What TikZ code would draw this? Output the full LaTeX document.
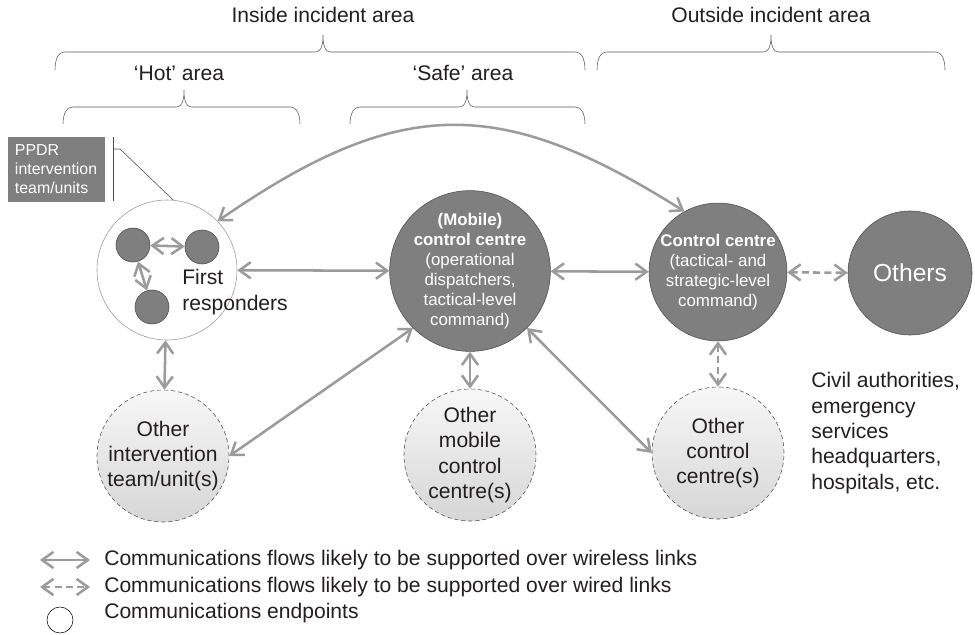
\documentclass[tikz,border=0pt]{standalone}
\usepackage{fontspec}
\setmainfont{Liberation Sans}
\usetikzlibrary{positioning,arrows.meta,shapes}
\definecolor{arrgray}{HTML}{9B9B9B}
\definecolor{cgray}{HTML}{7F7F7F}
\definecolor{edgegray}{HTML}{4D4D4D}
\definecolor{txtblack}{HTML}{231F20}
\tikzstyle{dbox}=[circle, draw=edgegray, fill=cgray, thin, text=white,
                  inner sep=0pt, align=center, font=\fontsize{12}{14.2}\selectfont]
\tikzstyle{obox}=[circle, draw=edgegray, dash pattern=on 3pt off 2pt, thin,
                  top color=gray!6, bottom color=gray!32, inner sep=0pt, align=center,
                  minimum size=3.3cm, text=txtblack, font=\fontsize{15}{18}\selectfont]
\tikzstyle{ubox}=[circle, draw=edgegray, fill=cgray, minimum size=0.85cm, inner sep=0pt]
\tikzstyle{frbox}=[circle, draw=gray!80, fill=white, thin, minimum size=3.5cm, inner sep=0pt]
\tikzstyle{wline}=[{Straight Barb[length=8pt,width=11.5pt]}-{Straight Barb[length=8pt,width=11.5pt]},
                   line width=1.8pt, draw=arrgray]
\tikzstyle{dline}=[wline, dash pattern=on 5pt off 3pt]
\tikzstyle{bline}=[thin, draw=gray!70!black]
\tikzstyle{tline}=[thin, draw=gray!60!black]
\tikzstyle{lbl}=[inner sep=0pt, text=txtblack, font=\fontsize{15}{18}\selectfont]

\begin{document}
\begin{tikzpicture}[x=0.25mm, y=-0.25mm]
\useasboundingbox (0,0) rectangle (975,635);

% area braces
\node (INSIDE) [lbl] at (323,15) {Inside incident area};
\draw[bline] (55,70) to[out=90,in=180] (65,52) -- (315,52) to[out=0,in=-90] (323,35)
  to[out=-90,in=180] (331,52) -- (575,52) to[out=0,in=90] (585,70);
\node (OUTSIDE) [lbl] at (771,15) {Outside incident area};
\draw[bline] (597,70) to[out=90,in=180] (607,52) -- (763,52) to[out=0,in=-90] (771,35)
  to[out=-90,in=180] (779,52) -- (935,52) to[out=0,in=90] (945,70);
\node (HOT) [lbl] at (179,73) {‘Hot’ area};
\draw[bline] (63,124) to[out=90,in=180] (73,107) -- (176,107) to[out=0,in=-90] (184,90)
  to[out=-90,in=180] (192,107) -- (290,107) to[out=0,in=90] (300,124);
\node (SAFE) [lbl] at (463,73) {‘Safe’ area};
\draw[bline] (350,124) to[out=90,in=180] (360,107) -- (459,107) to[out=0,in=-90] (467,90)
  to[out=-90,in=180] (475,107) -- (575,107) to[out=0,in=90] (585,124);

% first responders
\node (FR) [frbox] at (167,270) {};
\node (U1) [ubox] at (133,245) {};
\node (U2) [ubox] at (202,247) {};
\node (U3) [ubox] at (152,307) {};
\node (FRTXT) [lbl, anchor=west, align=left] at (182,292) {First\\responders};
\draw[wline] (U1) -- (U2);
\draw[wline] (U1) -- (U3);

\node (PPDR) [rectangle, fill=cgray, text=white, align=left, inner xsep=1.75mm,
  text width=2.075cm, minimum height=1.625cm, font=\fontsize{11.3}{13.5}\selectfont]
  at (56.5,169.5) {PPDR\\intervention\\team/units};
\coordinate (PTICK) at (120,149);
\draw[tline] (113,137) -- (113,201);
\draw[tline] (113,149) -- (PTICK) -- (FR.85);

% control centres
\node (MCC) [dbox, minimum size=3.4cm] at (470,271) {\textbf{(Mobile)}\\\textbf{control centre}\\(operational\\dispatchers,\\tactical-level\\command)};
\node (CC) [dbox, minimum size=3.35cm] at (718,272) {\textbf{Control centre}\\(tactical- and\\strategic-level\\command)};
\node (OTH) [dbox, minimum size=3.1cm, font=\fontsize{17.5}{20}\selectfont] at (910,273) {Others};
\node (CIVIL) [lbl, anchor=west, align=left] at (811,433) {Civil authorities,\\emergency\\services\\headquarters,\\hospitals, etc.};

% other endpoints
\node (OIT) [obox] at (163,456) {Other\\intervention\\team/unit(s)};
\node (OMC) [obox] at (470,455) {Other\\mobile\\control\\centre(s)};
\node (OCC) [obox] at (718,453) {Other\\control\\centre(s)};

% flows
\draw[wline] (FR) -- (MCC);
\draw[wline] (MCC) -- (CC);
\draw[dline] (CC) -- (OTH);
\draw[wline] (FR) -- (OIT);
\draw[wline] (MCC.225) -- (OIT.east);
\draw[wline] (MCC) -- (OMC);
\draw[wline] (MCC.-45) -- (OCC.west);
\draw[dline] (CC) -- (OCC);
\draw[wline] (FR.44) .. controls (400,95) and (500,95) .. (CC.119);

% legend
\coordinate (LWA) at (40,560);
\coordinate (LWB) at (90,560);
\draw[wline] (LWA) -- (LWB);
\node (LTW) [lbl, right=3.5mm of LWB] {Communications flows likely to be supported over wireless links};
\coordinate (LDA) at (40,587);
\coordinate (LDB) at (90,587);
\draw[dline] (LDA) -- (LDB);
\node (LTD) [lbl, right=3.5mm of LDB] {Communications flows likely to be supported over wired links};
\node (LEP) [circle, draw=black, thin, minimum size=0.65cm, inner sep=0pt] at (60,620) {};
\node (LTE) [lbl, anchor=west] at (104,613) {Communications endpoints};

\end{tikzpicture}
\end{document}
